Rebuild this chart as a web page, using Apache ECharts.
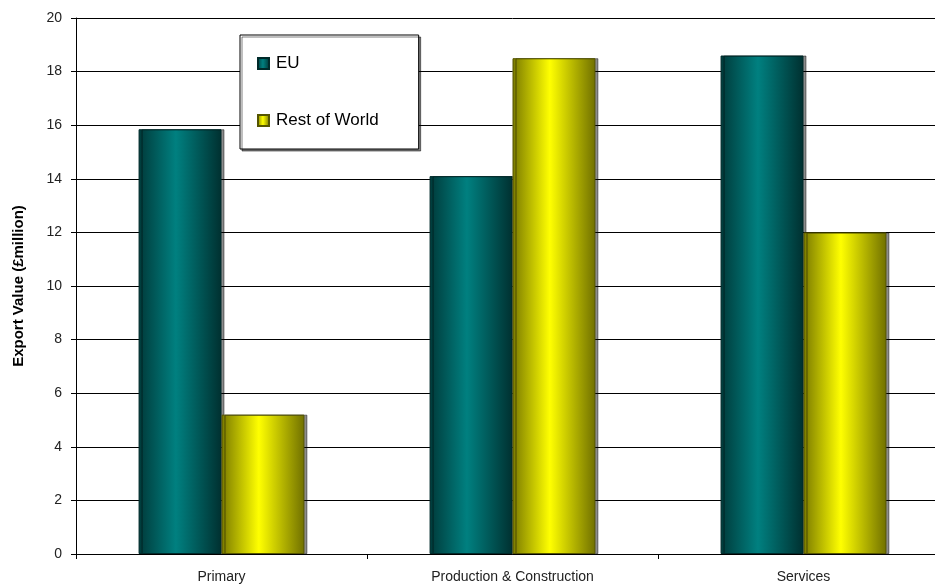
<!DOCTYPE html>
<html>
<head>
<meta charset="utf-8">
<script src="https://cdn.jsdelivr.net/npm/echarts@6/dist/echarts.min.js"></script>
<style>
  html, body { margin: 0; padding: 0; background: #fff; overflow: hidden; }
  /* plot runs slightly past the right edge in the original, so the canvas is a bit wider */
  #chart { width: 949px; height: 586px; }
</style>
</head>
<body>
<div id="chart"></div>
<script>
var categories = ['Primary', 'Production & Construction', 'Services'];
var euValues = [15.85, 14.1, 18.6];
var rowValues = [5.2, 18.5, 12.0];
var yTicks = { min: 0, max: 20, interval: 2 };

function barGrad(edgeL, mid, edgeR) {
  return new echarts.graphic.LinearGradient(0, 0, 1, 0, [
    { offset: 0, color: edgeL },
    { offset: 0.45, color: mid },
    { offset: 1, color: edgeR }
  ]);
}

var chart = echarts.init(document.getElementById('chart'));
chart.setOption({
  backgroundColor: '#fff',
  animation: false,
  grid: { left: 76, right: 0, top: 18, bottom: 32 },
  legend: {
    orient: 'vertical',
    left: 240,
    top: 35,
    padding: [20, 40, 20, 17],
    itemGap: 40,
    itemWidth: 11,
    itemHeight: 11,
    borderColor: '#000',
    borderWidth: 1,
    backgroundColor: '#fff',
    shadowColor: 'rgba(0,0,0,0.5)',
    shadowOffsetX: 2,
    shadowOffsetY: 2,
    icon: 'rect',
    textStyle: { fontFamily: 'Liberation Sans', fontSize: 17, color: '#000', padding: [0, 0, 0, 2] },
    data: ['EU', 'Rest of World']
  },
  xAxis: {
    type: 'category',
    data: categories,
    axisLine: { lineStyle: { color: '#000', width: 1 } },
    axisTick: { show: true, length: 5, lineStyle: { color: '#000' } },
    axisLabel: { fontFamily: 'Liberation Sans', fontSize: 14, color: '#222', margin: 16 }
  },
  yAxis: {
    type: 'value',
    min: yTicks.min,
    max: yTicks.max,
    interval: yTicks.interval,
    name: 'Export Value (£million)',
    nameLocation: 'middle',
    nameGap: 50,
    nameTextStyle: { fontFamily: 'Liberation Sans', fontSize: 15, fontWeight: 'bold', color: '#000' },
    axisLine: { show: true, lineStyle: { color: '#000' } },
    axisTick: { show: true, length: 5, lineStyle: { color: '#000' } },
    axisLabel: { fontFamily: 'Liberation Sans', fontSize: 14, color: '#222', margin: 14 },
    splitLine: { lineStyle: { color: '#000', width: 1 } }
  },
  series: [
    {
      name: 'EU',
      type: 'bar',
      data: euValues,
      barGap: '0%',
      barCategoryGap: '43%',
      itemStyle: {
        color: barGrad('#003a3a', '#008080', '#003030'),
        borderColor: '#002a2a',
        borderWidth: 1,
        shadowColor: 'rgba(0,0,0,0.45)',
        shadowOffsetX: 3,
        shadowOffsetY: 0
      }
    },
    {
      name: 'Rest of World',
      type: 'bar',
      data: rowValues,
      itemStyle: {
        color: barGrad('#7a7a00', '#ffff00', '#707000'),
        borderColor: '#555500',
        borderWidth: 1,
        shadowColor: 'rgba(0,0,0,0.45)',
        shadowOffsetX: 3,
        shadowOffsetY: 0
      }
    }
  ]
});
</script>
</body>
</html>
